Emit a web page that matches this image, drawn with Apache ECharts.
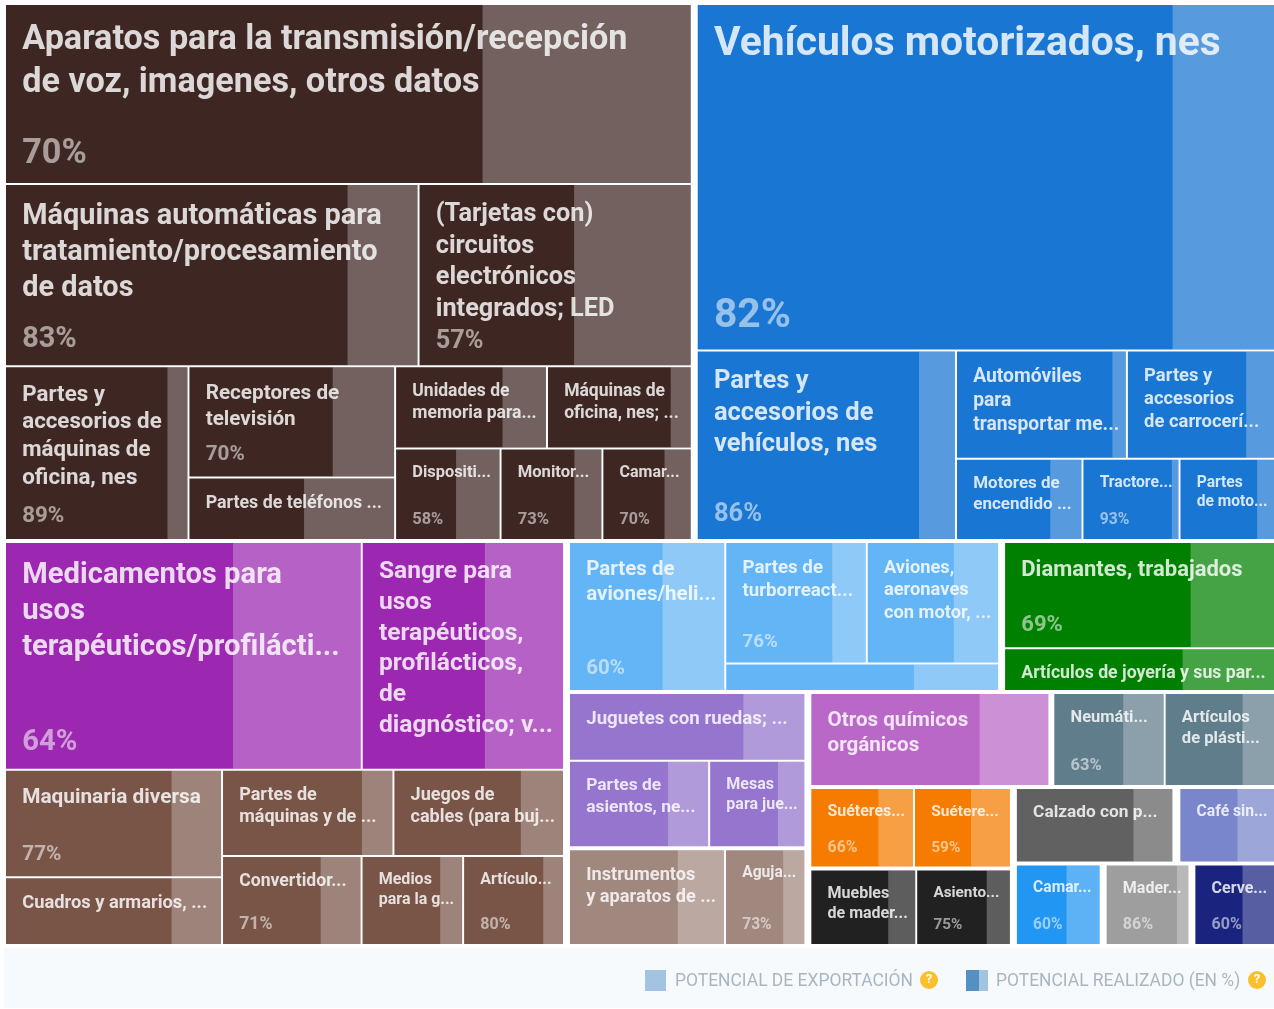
<!DOCTYPE html>
<html>
<head>
<title></title>
<meta charset="UTF-8">
<script type="text/javascript" src="https://cdn.jsdelivr.net/npm/echarts@6/dist/echarts.min.js"></script>
<style type="text/css">
html, body {
	margin: 0;
	padding: 0;
	background: #fff;
}
</style>
</head>
<body>
	<div id="chart" style="width: 1274px; height: 1009px;"></div>
	<script>
	// product labels, one per tile ('\n' = the line breaks of the original)
	var names = [
		'Aparatos para la transmisión/recepción\nde voz, imagenes, otros datos',
		'Máquinas automáticas para\ntratamiento/procesamiento\nde datos',
		'(Tarjetas con)\ncircuitos\nelectrónicos\nintegrados; LED',
		'Partes y\naccesorios de\nmáquinas de\noficina, nes',
		'Receptores de\ntelevisión',
		'Partes de teléfonos ...',
		'Unidades de\nmemoria para...',
		'Máquinas de\noficina, nes; ...',
		'Dispositi...',
		'Monitor...',
		'Camar...',
		'Vehículos motorizados, nes',
		'Partes y\naccesorios de\nvehículos, nes',
		'Automóviles\npara\ntransportar me...',
		'Partes y\naccesorios\nde carrocerí...',
		'Motores de\nencendido ...',
		'Tractore...',
		'Partes\nde moto...',
		'Medicamentos para\nusos\nterapéuticos/profilácti...',
		'Sangre para\nusos\nterapéuticos,\nprofilácticos,\nde\ndiagnóstico; v...',
		'Maquinaria diversa',
		'Cuadros y armarios, ...',
		'Partes de\nmáquinas y de ...',
		'Juegos de\ncables (para buj...',
		'Convertidor...',
		'Medios\npara la g...',
		'Artículo...',
		'Partes de\naviones/heli...',
		'Partes de\nturborreact...',
		'Aviones,\naeronaves\ncon motor, ...',
		'',
		'Diamantes, trabajados',
		'Artículos de joyería y sus par...',
		'Juguetes con ruedas; ...',
		'Partes de\nasientos, ne...',
		'Mesas\npara jue...',
		'Instrumentos\ny aparatos de ...',
		'Aguja...',
		'Otros químicos\norgánicos',
		'Neumáti...',
		'Artículos\nde plásti...',
		'Suéteres...',
		'Suétere...',
		'Muebles\nde mader...',
		'Asiento...',
		'Calzado con p...',
		'Café sin...',
		'Camar...',
		'Mader...',
		'Cerve...'
	];
	// export potential, read from the tile areas
	var potential = [
		122917, 75049, 49456, 31586, 22941, 12686, 12404, 11811, 9635, 9300, 8137,
		199503, 48602, 18367, 15887, 10188, 7780, 7657,
		80842, 45648, 23168, 14430, 14632, 14569, 12377, 8965, 8902,
		23278, 17468, 16320, 7235, 29049, 11342,
		16163, 12376, 8437, 15122, 7690,
		22614, 10530, 10433, 8613, 8038, 8349, 7450,
		12591, 7584, 7436, 7345, 7065
	];
	// realized potential in %
	var realized = [
		69.6, 83, 57, 89, 70, 56, 71, 86, 58, 73, 70,
		82.4, 86, 92, 81, 75, 93, 82,
		64, 61, 77, 77, 82, 75, 71, 78, 80,
		60, 76, 66, 69, 69, 66,
		74, 71, 72, 70, 73,
		71, 63, 71, 66, 59, 74, 75,
		75, 61, 60, 86, 60
	];
	// tiles whose % is printed in the original
	var showPct = [
		1, 1, 1, 1, 1, 0, 0, 0, 1, 1, 1,
		1, 1, 0, 0, 0, 1, 0,
		1, 0, 1, 0, 0, 0, 1, 0, 1,
		1, 1, 0, 0, 1, 0,
		0, 0, 0, 0, 1,
		0, 1, 0, 1, 1, 0, 1,
		0, 0, 1, 1, 1
	];
	var colors = [
		'#3e2723', '#3e2723', '#3e2723', '#3e2723', '#3e2723', '#3e2723', '#3e2723', '#3e2723', '#3e2723', '#3e2723', '#3e2723',
		'#1976d2', '#1976d2', '#1976d2', '#1976d2', '#1976d2', '#1976d2', '#1976d2',
		'#9c27b0', '#9c27b0', '#795548', '#795548', '#795548', '#795548', '#795548', '#795548', '#795548',
		'#64b5f6', '#64b5f6', '#64b5f6', '#64b5f6', '#008000', '#008000',
		'#9575cd', '#9575cd', '#9575cd', '#a1887f', '#a1887f',
		'#ba68c8', '#607d8b', '#607d8b', '#f57c00', '#f57c00', '#212121', '#212121',
		'#616161', '#7986cb', '#2196f3', '#9e9e9e', '#1a237e'
	];
	var fontSizes = [
		34.2, 28.9, 25.3, 22.3, 20.7, 17.8, 17.5, 17.5, 16.4, 16.6, 16,
		40.8, 25.5, 19.3, 18.4, 17, 15.7, 15.6,
		29.2, 24.6, 20.8, 18.3, 18, 18, 17.6, 16, 16,
		20.5, 18.7, 18.3, 16, 22, 17.7,
		18.7, 17.4, 16, 18.2, 15.6,
		20.6, 16.5, 16.6, 15.9, 15.5, 16, 15.3,
		17.3, 15.7, 15.6, 16, 16
	];

	// how the tiles nest: [direction, gap, children], a number is an index in names
	var layoutTree = ['v', 4, [
		['h', 7, [
			['v', 2, [
				0,
				['h', 2, [1, 2]],
				['h', 2, [3, ['v', 2, [4, 5]], ['v', 2, [['h', 2, [6, 7]], ['h', 2, [8, 9, 10]]]]]]
			]],
			['v', 2, [
				11,
				['h', 2, [12, ['v', 2, [['h', 2, [13, 14]], ['h', 2, [15, 16, 17]]]]]]
			]]
		]],
		['h', 7, [
			['v', 2, [
				['h', 2, [18, 19]],
				['h', 2, [['v', 2, [20, 21]], ['v', 2, [['h', 2, [22, 23]], ['h', 2, [24, 25, 26]]]]]]
			]],
			['v', 4, [
				['h', 7, [
					['h', 2, [27, ['v', 2, [['h', 2, [28, 29]], 30]]]],
					['v', 2, [31, 32]]
				]],
				['h', 7, [
					['v', 4, [
						['v', 2, [33, ['h', 2, [34, 35]]]],
						['h', 2, [36, 37]]
					]],
					['v', 4, [
						['h', 6, [38, ['h', 2, [39, 40]]]],
						['h', 7, [
							['v', 4, [['h', 2, [41, 42]], ['h', 2, [43, 44]]]],
							['v', 4, [['h', 8, [45, 46]], ['h', 7, [47, 48, 49]]]]
						]]
					]]
				]]
			]]
		]]
	]];

	var GRID_W = 1268, GRID_H = 939;

	function sumOf(node) {
		if (typeof node === 'number') return potential[node];
		var s = 0;
		for (var i = 0; i < node[2].length; i++) s += sumOf(node[2][i]);
		return s;
	}

	// slice and dice: every tile gets its share of the free length by its value
	function layout(node, x, y, w, h, out) {
		if (typeof node === 'number') {
			out[node] = [x, y, x + w, y + h, node];
			return;
		}
		var kids = node[2], gap = node[1], total = sumOf(node);
		var free = (node[0] === 'h' ? w : h) - gap * (kids.length - 1);
		for (var i = 0; i < kids.length; i++) {
			var len = free * sumOf(kids[i]) / total;
			if (node[0] === 'h') {
				layout(kids[i], x, y, len, h, out);
				x += len + gap;
			} else {
				layout(kids[i], x, y, w, len, out);
				y += len + gap;
			}
		}
	}

	var tiles = [];
	layout(layoutTree, 0, 0, GRID_W, GRID_H, tiles);

	function renderTile(params, api) {
		var idx = api.value(4);
		var p0 = api.coord([api.value(0), api.value(1)]);
		var p1 = api.coord([api.value(2), api.value(3)]);
		var w = p1[0] - p0[0], h = p1[1] - p0[1];
		var split = w * realized[idx] / 100;
		var fs = fontSizes[idx], lh = fs * 1.245;
		var pad = 12.5 + fs * 0.68;
		var font = 'bold ' + fs + 'px Roboto';
		var kids = [
			{ type: 'rect', shape: { x: p0[0], y: p0[1], width: w, height: h }, style: { fill: colors[idx] } },
			{ type: 'rect', shape: { x: p0[0] + split, y: p0[1], width: w - split, height: h }, style: { fill: 'rgba(255,255,255,0.27)' } },
			{ type: 'text', style: { x: p0[0] + 16.2, y: p0[1] + pad - lh / 2, text: names[idx], font: font, lineHeight: lh, fill: 'rgba(255,255,255,0.82)', align: 'left', verticalAlign: 'top' } }
		];
		if (showPct[idx]) {
			kids.push({ type: 'text', style: { x: p0[0] + 16.2, y: p1[1] - 10 - fs * 0.55, text: Math.round(realized[idx]) + '%', font: font, fill: 'rgba(255,255,255,0.55)', align: 'left', verticalAlign: 'middle' } });
		}
		return { type: 'group', children: kids };
	}

	var myChart = echarts.init(document.getElementById('chart'));
	var legendColor = '#a9b6c1';
	var option = {
		animation: false,
		grid: { left: 6, top: 5, width: GRID_W, height: GRID_H },
		xAxis: { type: 'value', min: 0, max: GRID_W, show: false },
		yAxis: { type: 'value', min: 0, max: GRID_H, inverse: true, show: false },
		series: [{
			type: 'custom',
			renderItem: renderTile,
			data: tiles,
			encode: { x: [0, 2], y: [1, 3] },
			clip: false
		}],
		// footer legend
		graphic: [
			{ type: 'rect', z: -1, shape: { x: 4, y: 948, width: 1270, height: 60 }, style: { fill: '#f6fafd' } },
			{ type: 'rect', shape: { x: 645, y: 970, width: 21, height: 21 }, style: { fill: '#a3c4e0' } },
			{ type: 'text', style: { x: 675, y: 982, text: 'POTENCIAL DE EXPORTACIÓN', font: '400 17.45px Roboto', fill: legendColor, verticalAlign: 'middle' } },
			{ type: 'circle', shape: { cx: 929, cy: 980, r: 9 }, style: { fill: '#fbbf2d' } },
			{ type: 'text', style: { x: 929, y: 980, text: '?', font: '700 13px Roboto', fill: '#fff', align: 'center', verticalAlign: 'middle' } },
			{ type: 'rect', shape: { x: 966, y: 970, width: 22, height: 21 }, style: { fill: '#a3c4e0' } },
			{ type: 'rect', shape: { x: 966, y: 970, width: 13, height: 21 }, style: { fill: '#5590c3' } },
			{ type: 'text', style: { x: 996, y: 982, text: 'POTENCIAL REALIZADO (EN %)', font: '400 17.45px Roboto', fill: legendColor, verticalAlign: 'middle' } },
			{ type: 'circle', shape: { cx: 1257, cy: 980, r: 9 }, style: { fill: '#fbbf2d' } },
			{ type: 'text', style: { x: 1257, y: 980, text: '?', font: '700 13px Roboto', fill: '#fff', align: 'center', verticalAlign: 'middle' } }
		]
	};
	myChart.setOption(option);
	</script>
</body>
</html>
